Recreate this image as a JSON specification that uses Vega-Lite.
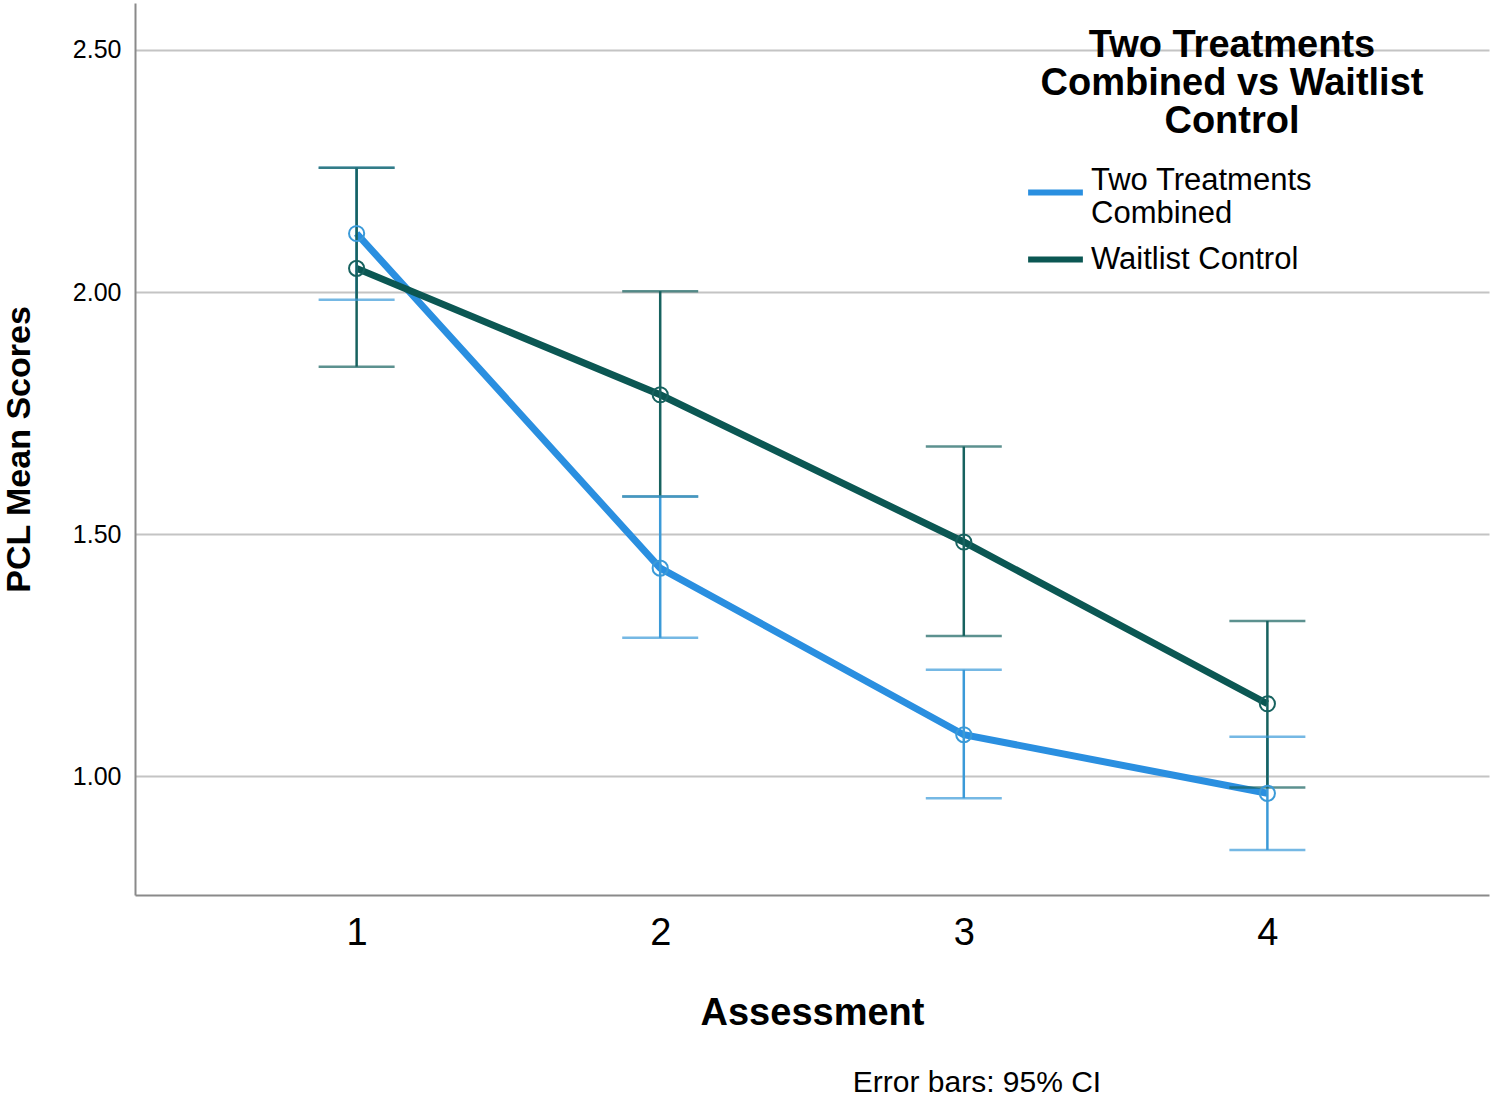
{
  "$schema": "https://vega.github.io/schema/vega-lite/v6.json",
  "autosize": {"type": "none"},
  "width": 1354,
  "height": 892,
  "padding": {"left": 135, "top": 3, "right": 2, "bottom": 204},
  "background": "white",
  "config": {
    "font": "Liberation Sans",
    "view": {"stroke": null},
    "axis": {"labelColor": "#000000", "titleColor": "#000000"}
  },
  "title": {
    "text": "Error bars: 95% CI",
    "orient": "bottom",
    "anchor": "middle",
    "dx": 165,
    "offset": 36,
    "fontSize": 30,
    "fontWeight": "normal",
    "color": "#000000"
  },
  "data": {
    "values": [
      {"assessment": "1", "group": "Two Treatments Combined", "mean": 2.121, "lower": 1.984, "upper": 2.257},
      {"assessment": "2", "group": "Two Treatments Combined", "mean": 1.430, "lower": 1.286, "upper": 1.578},
      {"assessment": "3", "group": "Two Treatments Combined", "mean": 1.086, "lower": 0.955, "upper": 1.220},
      {"assessment": "4", "group": "Two Treatments Combined", "mean": 0.965, "lower": 0.848, "upper": 1.082},
      {"assessment": "1", "group": "Waitlist Control", "mean": 2.049, "lower": 1.846, "upper": 2.257},
      {"assessment": "2", "group": "Waitlist Control", "mean": 1.788, "lower": 1.578, "upper": 2.002},
      {"assessment": "3", "group": "Waitlist Control", "mean": 1.484, "lower": 1.290, "upper": 1.681},
      {"assessment": "4", "group": "Waitlist Control", "mean": 1.150, "lower": 0.977, "upper": 1.321}
    ]
  },
  "encoding": {
    "x": {
      "field": "assessment",
      "type": "ordinal",
      "scale": {"type": "point", "padding": 0.73},
      "axis": {
        "title": "Assessment",
        "labelAngle": 0,
        "labelFontSize": 38,
        "labelPadding": 19,
        "ticks": false,
        "domainColor": "#8a8a8a",
        "domainWidth": 2,
        "titleFontSize": 38,
        "titleFontWeight": "bold",
        "titlePadding": 42,
        "grid": false
      }
    }
  },
  "layer": [
    {
      "mark": {"type": "line", "strokeWidth": 7},
      "encoding": {
        "y": {
          "field": "mean",
          "type": "quantitative",
          "scale": {"domain": [0.755, 2.597], "nice": false, "zero": false},
          "axis": {
            "title": "PCL Mean Scores",
            "values": [1.0, 1.5, 2.0, 2.5],
            "format": ".2f",
            "labelFontSize": 25,
            "labelPadding": 14,
            "ticks": false,
            "grid": true,
            "gridColor": "#c4c4c4",
            "gridWidth": 2,
            "domainColor": "#8a8a8a",
            "domainWidth": 2,
            "titleFontSize": 34,
            "titleFontWeight": "bold",
            "titlePadding": 36
          }
        },
        "color": {
          "field": "group",
          "type": "nominal",
          "scale": {"domain": ["Two Treatments Combined", "Waitlist Control"], "range": ["#2a8fe0", "#0b5753"]},
          "legend": {
            "title": ["Two Treatments", "Combined vs Waitlist", "Control"],
            "orient": "none",
            "legendX": 890,
            "legendY": 24,
            "titleFontSize": 38,
            "titleFontWeight": "bold",
            "titleColor": "#000000",
            "titleAnchor": "start",
            "titleAlign": "center",
            "titleLineHeight": 38,
            "titleLimit": 600,
            "titlePadding": 21,
            "symbolType": "stroke",
            "symbolStrokeWidth": 6,
            "symbolSize": 3000,
            "labelFontSize": 31,
            "labelColor": "#000000",
            "labelLineHeight": 32,
            "labelLimit": 400,
            "labelOffset": 5,
            "rowPadding": -21,
            "labelExpr": "datum.label == 'Two Treatments Combined' ? ['Two Treatments', 'Combined'] : datum.label",
            "encode": {
              "title": {
                "update": {
                  "dx": {"value": 207}
                }
              },
              "labels": {
                "update": {
                  "dy": {"signal": "datum.value == 'Two Treatments Combined' ? -12 : 0"}
                }
              }
            }
          }
        }
      }
    },
    {
      "mark": {"type": "rule", "strokeWidth": 2.5},
      "encoding": {
        "y": {"field": "lower", "type": "quantitative"},
        "y2": {"field": "upper"},
        "color": {
          "field": "group",
          "type": "nominal",
          "scale": {"domain": ["Two Treatments Combined", "Waitlist Control"], "range": ["#3b9ad8", "#17625f"]},
          "legend": null
        }
      }
    },
    {
      "mark": {"type": "tick", "orient": "horizontal", "size": 76, "thickness": 2.5},
      "encoding": {
        "y": {"field": "lower", "type": "quantitative"},
        "color": {
          "field": "group",
          "type": "nominal",
          "scale": {"domain": ["Two Treatments Combined", "Waitlist Control"], "range": ["#3b9ad8", "#17625f"]},
          "legend": null
        }
      }
    },
    {
      "mark": {"type": "tick", "orient": "horizontal", "size": 76, "thickness": 2.5},
      "encoding": {
        "y": {"field": "upper", "type": "quantitative"},
        "color": {
          "field": "group",
          "type": "nominal",
          "scale": {"domain": ["Two Treatments Combined", "Waitlist Control"], "range": ["#3b9ad8", "#17625f"]},
          "legend": null
        }
      }
    },
    {
      "mark": {"type": "point", "filled": false, "size": 230, "strokeWidth": 2, "opacity": 1},
      "encoding": {
        "y": {"field": "mean", "type": "quantitative"},
        "color": {
          "field": "group",
          "type": "nominal",
          "scale": {"domain": ["Two Treatments Combined", "Waitlist Control"], "range": ["#3b9ad8", "#17625f"]},
          "legend": null
        }
      }
    }
  ],
  "resolve": {"scale": {"color": "independent"}}
}
